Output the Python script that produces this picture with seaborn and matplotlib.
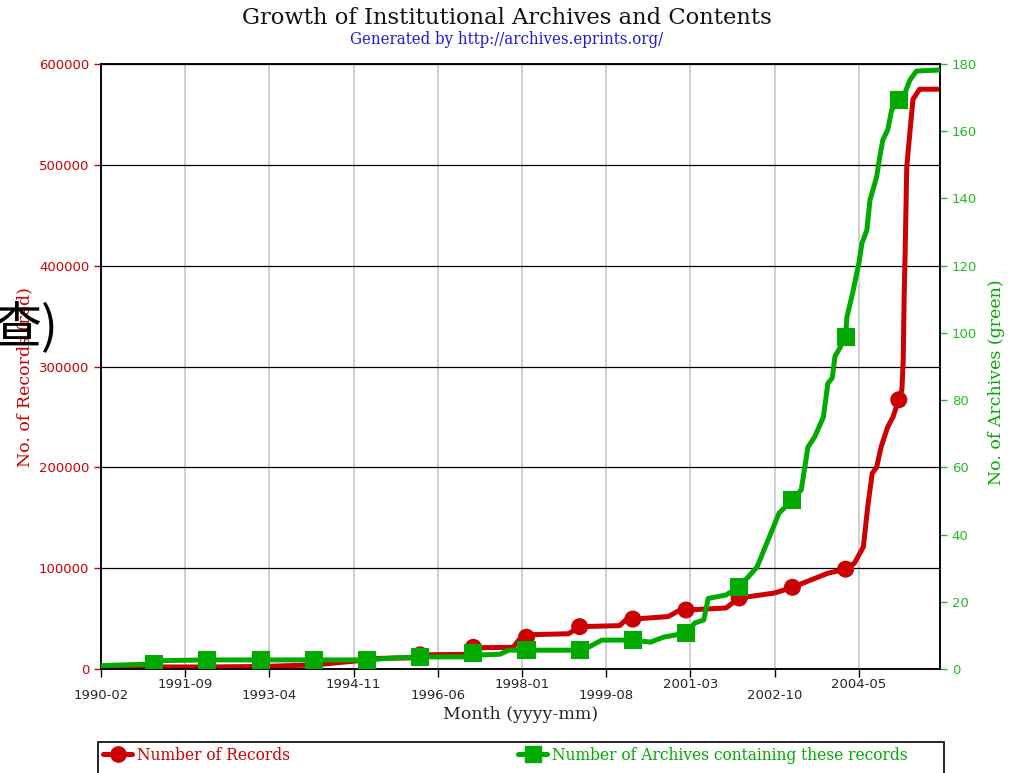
import matplotlib
matplotlib.use('Agg')
import matplotlib.pyplot as plt
import seaborn as sns
from matplotlib.lines import Line2D
from matplotlib.patches import Rectangle
from matplotlib.ticker import FuncFormatter

# months counted from 1990-02
records_month = [0, 12, 24, 36, 48, 60, 62, 70, 71, 82, 83.5, 93, 94.5, 96, 97, 105.5, 108, 117,
                 118.5, 128, 130, 132, 141, 144, 152, 156, 164, 168, 170, 172, 173, 174, 175,
                 176, 177.5, 178.7, 180, 180.7, 181, 181.2, 181.4, 181.8, 182.5, 183.2, 184.7,
                 189]
records_value = [2000, 2000, 2000, 2500, 4000, 9000, 10500, 11000, 14000, 14500, 21000, 21500,
                 30000, 31500, 34000, 35000, 42000, 43000, 49000, 52000, 57000, 58500, 60500,
                 70400, 75400, 81000, 95000, 99000, 105000, 121000, 161000, 194000, 200000,
                 220000, 240000, 250000, 267000, 277000, 306000, 366000, 406000, 498000,
                 532000, 565000, 575000, 575000]

archives_month = [0, 12, 14, 24, 60, 66, 72, 83, 84, 86, 90, 92, 108, 110, 113, 120, 124, 127,
                  132, 134, 136, 137, 141, 144, 148, 153, 156, 158, 159.5, 161, 163, 164, 165,
                  165.6, 166.7, 168, 168.3, 169.6, 171, 171.7, 172.8, 173.5, 175, 175.7,
                  176.4, 177.5, 178.4, 180, 181.4, 182.5, 184, 189]
archives_value = [1, 1.5, 2.5, 2.7, 2.7, 3.3, 3.6, 3.6, 4.7, 4.2, 4.4, 5.6, 5.6, 6.5, 8.6, 8.6,
                  8, 9.5, 10.7, 13.7, 14.6, 21, 22, 24.4, 30.3, 46.4, 50.3, 53.3, 66, 69, 75,
                  85, 86.6, 93, 95.5, 98.8, 104.7, 111.9, 120.8, 126.7, 130.6, 139.5, 146.4,
                  152.3, 157.4, 160.4, 166.3, 169.3, 171.4, 175.2, 177.9, 178.2]

marker_month = [12, 24, 36, 48, 60, 72, 84, 96, 108, 120, 132, 144, 156, 168, 180]
records_marker = [2000, 2000, 2500, 4000, 9000, 14000, 21500, 31500, 42000, 49500, 58500,
                  70400, 81000, 99000, 267000]
archives_marker = [1.5, 2.7, 2.7, 2.7, 2.7, 3.6, 4.7, 5.6, 5.6, 8.6, 10.7, 24.4, 50.3, 98.8,
                   169.3]

tick_labels = ['1990-02', '1991-09', '1993-04', '1994-11', '1996-06', '1998-01',
               '1999-08', '2001-03', '2002-10', '2004-05']

RED = '#cc0000'
GREEN = '#00aa00'
SERIF = 'DejaVu Serif'

sns.set_style('white')
plt.rcParams['font.family'] = ['DejaVu Sans', 'Noto Sans CJK SC']

fig = plt.figure(figsize=(10.14, 7.73), dpi=100)
ax = fig.add_axes([101 / 1014, 1 - 669 / 773, 839 / 1014, 605 / 773])
ax2 = ax.twinx()

# lines
sns.lineplot(x=records_month, y=records_value, ax=ax, color=RED, linewidth=3.6,
             estimator=None, sort=False, zorder=3)
sns.lineplot(x=archives_month, y=archives_value, ax=ax2, color=GREEN, linewidth=3.6,
             estimator=None, sort=False, zorder=3)
sns.scatterplot(x=marker_month, y=records_marker, ax=ax, color=RED, marker='o', s=150,
                edgecolor='none', zorder=4)
sns.scatterplot(x=marker_month, y=archives_marker, ax=ax2, color=GREEN, marker='s', s=170,
                edgecolor='none', zorder=4)

ax.set_xlim(0, 189.3)
ax.set_ylim(0, 600000)
ax2.set_ylim(0, 180)

# staggered x tick labels
tick_pos = [(int(t[:4]) - 1990) * 12 + int(t[5:]) - 2 for t in tick_labels]
ax.set_xticks(tick_pos[1::2])
ax.set_xticklabels(tick_labels[1::2])
ax.set_xticks(tick_pos[0::2], minor=True)
ax.set_xticklabels(tick_labels[0::2], minor=True)
ax.tick_params(axis='x', which='major', pad=0.5, length=6, width=1, color='black',
               labelsize=9.5, bottom=True)
ax.tick_params(axis='x', which='minor', pad=8.5, length=6, width=1, color='black',
               labelsize=9.5, bottom=True)

ax.set_yticks(range(0, 600001, 100000))
ax.yaxis.set_major_formatter(FuncFormatter(lambda v, p: f'{int(v)}'))
ax.tick_params(axis='y', length=5, width=1, color=RED, labelcolor=RED, labelsize=9.5, left=True)
ax2.set_yticks(range(0, 181, 20))
ax2.tick_params(axis='y', length=5, width=1, color='#22bb22', labelcolor='#22bb22',
                labelsize=9.5, right=True)

ax.grid(axis='x', which='both', color='#cccccc', linewidth=1.3)
ax.grid(axis='y', color='black', linewidth=0.9)
ax.set_axisbelow(True)
ax2.grid(False)
for a in (ax, ax2):
    for s in a.spines.values():
        s.set_color('black')
        s.set_linewidth(1.1)

ax.set_xlabel('Month (yyyy-mm)', family=SERIF, fontsize=12.5, labelpad=3)
ax.set_ylabel('No. of Records (red)', family=SERIF, fontsize=12.5, color=RED)
ax2.set_ylabel('No. of Archives (green)', family=SERIF, fontsize=12.5, color=GREEN)
ax.yaxis.set_label_coords(-0.081, 0.483)
ax2.yaxis.set_label_coords(1.057, 0.474)

fig.text(0.5, 1 - 18 / 773, 'Growth of Institutional Archives and Contents', family=SERIF,
         fontsize=16.3, color='#111111', ha='center', va='center')
fig.text(0.5, 1 - 39 / 773, 'Generated by http://archives.eprints.org/', family=SERIF,
         fontstretch='condensed', fontsize=12, color='#1a1add', ha='center', va='center')

# legend box running off the bottom edge
fig.add_artist(Rectangle((98 / 1014, -0.05), 846 / 1014, 0.05 + (773 - 742) / 773,
                         transform=fig.transFigure, fill=False, edgecolor='black',
                         linewidth=1.2, clip_on=False))
h1 = Line2D([], [], color=RED, linewidth=3.6, marker='o', markersize=11)
h2 = Line2D([], [], color=GREEN, linewidth=3.6, marker='s', markersize=11)
for h, lab, col, xpos in [(h1, 'Number of Records', RED, 103),
                          (h2, 'Number of Archives containing these records', GREEN, 518)]:
    fig.legend([h], [lab], loc='center left', bbox_to_anchor=(xpos / 1014, 1 - 756 / 773),
               frameon=False, borderpad=0, borderaxespad=0, handlelength=1.7,
               handletextpad=0.25, prop={'family': SERIF, 'size': 12.4, 'stretch': 'condensed'},
               labelcolor=col)

fig.text(58 / 1014, 1 - 328 / 773, '查)', family=['Noto Sans CJK SC', 'DejaVu Sans'],
         fontsize=36, color='black', ha='right', va='center')

fig.savefig('out.png', dpi=100)
